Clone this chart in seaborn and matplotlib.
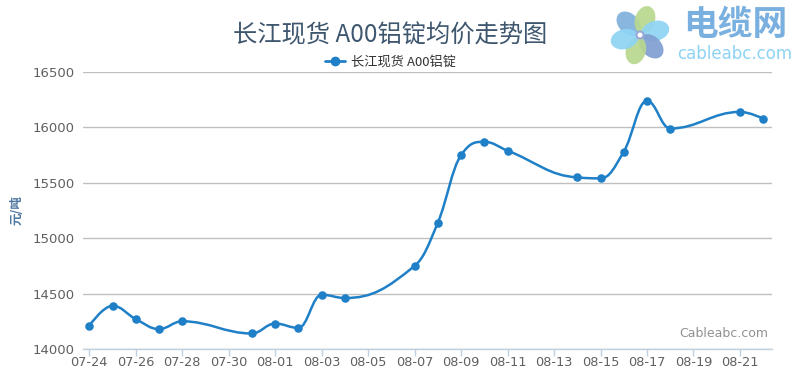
import numpy as np
import pandas as pd
import matplotlib
matplotlib.use("Agg")
import matplotlib.pyplot as plt
import matplotlib.dates as mdates
from matplotlib.path import Path
from matplotlib.patches import PathPatch, Ellipse, Circle
from matplotlib.lines import Line2D
import seaborn as sns

# data (yuan / ton)
dates = pd.to_datetime([
    "2017-07-24", "2017-07-25", "2017-07-26", "2017-07-27", "2017-07-28",
    "2017-07-31", "2017-08-01", "2017-08-02", "2017-08-03", "2017-08-04",
    "2017-08-07", "2017-08-08", "2017-08-09", "2017-08-10", "2017-08-11",
    "2017-08-14", "2017-08-15", "2017-08-16", "2017-08-17", "2017-08-18",
    "2017-08-21", "2017-08-22",
])
prices = [14210, 14390, 14270, 14180, 14250,
          14140, 14230, 14190, 14490, 14460,
          14750, 15140, 15750, 15870, 15790,
          15550, 15540, 15780, 16240, 15990,
          16140, 16080]
series_name = "长江现货 A00铝锭"
title = "长江现货 A00铝锭均价走势图"
y_label = "元/吨"
y_ticks = [14000, 14500, 15000, 15500, 16000, 16500]

df = pd.DataFrame({"date": dates, "price": prices})

sns.set_theme(style="white")
cjk = ["Noto Sans CJK SC", "DejaVu Sans"]
plt.rcParams["font.family"] = ["DejaVu Sans"]

LINE = "#1f80c8"

fig = plt.figure(figsize=(7.97, 3.75), dpi=100)
ax = fig.add_axes([83 / 797, 26 / 375, 689 / 797, 277 / 375])


def spline_path(xs, ys, smoothing=1.5):
    # highcharts-style spline: cubic bezier segments through every point
    denom = smoothing + 1
    n = len(xs)
    left = [None] * n
    right = [None] * n
    for i in range(1, n - 1):
        px, py = xs[i], ys[i]
        lx, ly = xs[i - 1], ys[i - 1]
        nx, ny = xs[i + 1], ys[i + 1]
        lcx = (smoothing * px + lx) / denom
        lcy = (smoothing * py + ly) / denom
        rcx = (smoothing * px + nx) / denom
        rcy = (smoothing * py + ny) / denom
        if rcx != lcx:
            corr = (rcy - lcy) * (rcx - px) / (rcx - lcx) + py - rcy
            lcy += corr
            rcy += corr
            if lcy > ly and lcy > py:
                lcy = max(ly, py)
                rcy = 2 * py - lcy
            elif lcy < ly and lcy < py:
                lcy = min(ly, py)
                rcy = 2 * py - lcy
            if rcy > ny and rcy > py:
                rcy = max(ny, py)
                lcy = 2 * py - rcy
            elif rcy < ny and rcy < py:
                rcy = min(ny, py)
                lcy = 2 * py - rcy
        left[i] = (lcx, lcy)
        right[i] = (rcx, rcy)
    left[-1] = (xs[-1], ys[-1])
    right[0] = (xs[0], ys[0])
    verts = [(xs[0], ys[0])]
    codes = [Path.MOVETO]
    for i in range(1, n):
        verts += [right[i - 1], left[i], (xs[i], ys[i])]
        codes += [Path.CURVE4] * 3
    return Path(verts, codes)


xnum = mdates.date2num(df["date"])
path = spline_path(list(xnum), list(df["price"].astype(float)))
ax.add_patch(PathPatch(path, fill=False, edgecolor=LINE, lw=1.8,
                       transform=ax.transData, zorder=3))
sns.scatterplot(data=df, x="date", y="price", ax=ax, color=LINE, s=38,
                edgecolor=LINE, linewidth=0, zorder=4, legend=False)

ax.set_xlim(xnum[0] - 0.27, xnum[0] + 29.38)
ax.set_ylim(14000, 16500)
ax.set_yticks(y_ticks)
ax.yaxis.grid(True, color="#C0C0C0", lw=1)
ax.xaxis.grid(False)

ticks = pd.date_range(dates[0], dates[-1], freq="2D")
ax.set_xticks(ticks)
ax.xaxis.set_major_formatter(mdates.DateFormatter("%m-%d"))

for s in ["top", "right", "left"]:
    ax.spines[s].set_visible(False)
ax.spines["bottom"].set_color("#C0D0E0")
ax.spines["bottom"].set_linewidth(1)
ax.tick_params(axis="x", colors="#C0D0E0", length=5, width=1, direction="out",
               bottom=True, labelcolor="#606060", labelsize=9.3, pad=0)
ax.tick_params(axis="y", length=0, labelcolor="#606060", labelsize=9.5, pad=6)
ax.set_xlabel("")
ax.set_ylabel(y_label, family=cjk, color="#4d759e", fontsize=9,
              fontweight="bold")
ax.yaxis.set_label_coords(-(83 - 24) / 689, 0.5)

fig.text(0.49, 1 - 35 / 375, title, family=cjk, fontsize=17.5,
         color="#3E576F", ha="center", va="center")
handle = Line2D([], [], color=LINE, lw=2, marker="o", markersize=6)
leg = fig.legend([handle], [series_name], loc="center",
                 bbox_to_anchor=(0.49, 1 - 62 / 375), frameon=False,
                 prop={"family": cjk, "size": 9.5}, handlelength=1.5,
                 handletextpad=0.4)
for t in leg.get_texts():
    t.set_color("#333333")

ax.text(0.995, 0.055, "Cableabc.com", transform=ax.transAxes, ha="right",
        va="center", color="#909090", fontsize=9)

# logo in the top right corner
lax = fig.add_axes([0, 0, 1, 1], facecolor="none")
lax.set_xlim(0, 797)
lax.set_ylim(375, 0)
lax.axis("off")
cx, cy = 640, 35
petals = [(135, "#7fb0dc"), (72, "#b8d88e"), (15, "#8fd4f4"),
          (-45, "#7f9fd2"), (-105, "#b8d88e"), (195, "#8fd4f4")]
for ang, col in petals:
    a = np.deg2rad(ang)
    ex = cx + 16 * np.cos(a)
    ey = cy - 16 * np.sin(a)
    lax.add_patch(Ellipse((ex, ey), 28, 20, angle=-ang, color=col, alpha=0.92,
                          lw=0))
lax.add_patch(Circle((cx, cy), 4.5, color="#9aa6d6", lw=0))
lax.add_patch(Circle((cx, cy), 2.5, color="white", lw=0))
lax.text(735, 25, "电缆网", family=cjk, fontsize=25, fontweight="bold",
         color="#7ab0df", ha="center", va="center")
lax.text(735, 54, "cableabc.com", fontsize=12, color="#8dd3f5",
         ha="center", va="center")

fig.savefig("out.png", dpi=100, facecolor="white")
